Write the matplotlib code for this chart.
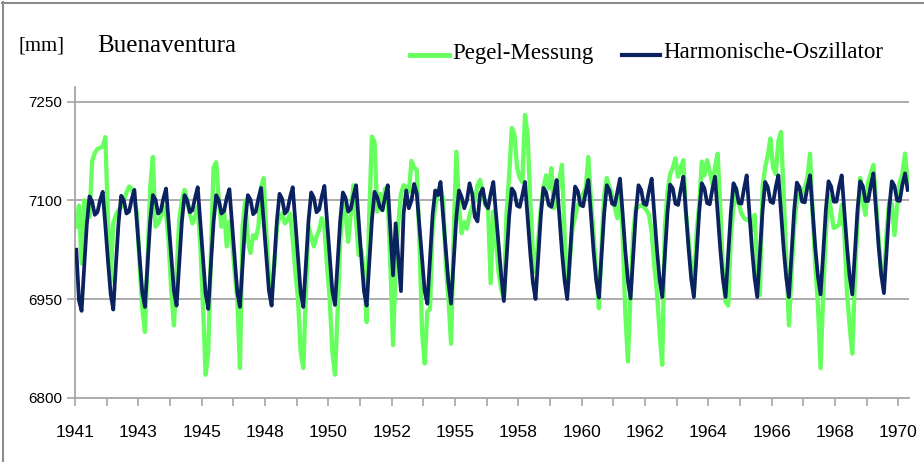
import matplotlib
matplotlib.use("Agg")
import matplotlib.pyplot as plt
from matplotlib.lines import Line2D
import numpy as np

# ---------------- data ----------------
year_labels = ["1941", "1943", "1945", "1948", "1950", "1952", "1955",
               "1958", "1960", "1962", "1964", "1966", "1968", "1970"]
y_ticks = [6800, 6950, 7100, 7250]

pegel = [
    7060, 7092, 7004, 7100, 7090, 7075, 7160, 7172, 7178, 7180, 7182, 7196,
    7070, 6976, 7065, 7078, 7085, 7090, 7100, 7112, 7121, 7118, 7100, 7080,
    7000, 6935, 6900, 7010, 7120, 7166, 7060, 7065, 7075, 7090, 7080, 7035,
    6960, 6910, 6990, 7070, 7100, 7116, 7100, 7080, 7065, 7075, 7090, 7030,
    6940, 6835, 6870, 7020, 7150, 7158, 7100, 7060, 7083, 7030, 7068, 7040,
    6990, 6950, 6845, 7060, 7100, 7040, 7020, 7047, 7042, 7060, 7120, 7134,
    7050, 6985, 6960, 7000, 7060, 7075, 7080, 7065, 7070, 7080, 7040, 6990,
    6950, 6870, 6845, 6960, 7060, 7045, 7030, 7045, 7055, 7073, 7060, 7000,
    6950, 6870, 6835, 6930, 7040, 7093, 7080, 7037, 7080, 7123, 7070, 7017,
    7025, 6990, 6915, 7080, 7197, 7189, 7083, 7110, 7085, 7118, 7103, 7000,
    6880, 7000, 7065, 7110, 7123, 7120, 7113, 7160, 7150, 7146, 7040, 6900,
    6852, 6931, 6935, 7060, 7090, 7115, 7120, 7100, 7002, 6950, 6882, 7050,
    7174, 7090, 7050, 7067, 7057, 7078, 7090, 7100, 7123, 7131, 7110, 7093,
    7088, 6974, 7083, 7040, 6990, 6965, 6950, 7080, 7138, 7210, 7200, 7150,
    7134, 7128, 7230, 7199, 7100, 7017, 6991, 7040, 7088, 7120, 7138, 7118,
    7149, 7088, 7100, 7130, 7154, 7050, 6960, 7010, 7058, 7075, 7093, 7100,
    7110, 7118, 7166, 7100, 7047, 6990, 6936, 7030, 7108, 7134, 7120, 7108,
    7090, 7073, 7118, 7050, 6930, 6855, 6960, 7050, 7088, 7090, 7093, 7090,
    7085, 7078, 7052, 7000, 6960, 6900, 6850, 7060, 7113, 7140, 7149, 7164,
    7136, 7150, 7161, 7080, 7040, 7000, 6965, 7050, 7093, 7159, 7138, 7161,
    7145, 7125, 7150, 7171, 7090, 6990, 6946, 6940, 7047, 7090, 7118, 7095,
    7080, 7073, 7070, 7073, 7055, 7078, 7000, 6956, 7120, 7150, 7169, 7194,
    7150, 7140, 7190, 7204, 7110, 7010, 6910, 6990, 7060, 7100, 7108, 7108,
    7120, 7134, 7171, 7080, 7000, 6940, 6845, 6960, 7050, 7108, 7083, 7058,
    7060, 7063, 7093, 7050, 6960, 6910, 6867, 6980, 7070, 7134, 7100, 7078,
    7128, 7140, 7154, 7100, 7040, 6990, 6976, 7050, 7098, 7095, 7047, 7090,
    7128, 7140, 7171, 7128,
]

oszillator = [
    7025, 6948, 6932, 7000, 7065, 7106, 7098, 7078, 7082, 7100, 7113, 7062,
    7008, 6958, 6934, 7002, 7066, 7107, 7100, 7080, 7083, 7102, 7116, 7064,
    7010, 6960, 6938, 7004, 7068, 7108, 7101, 7080, 7084, 7103, 7118, 7066,
    7012, 6962, 6940, 7004, 7068, 7108, 7100, 7082, 7085, 7104, 7120, 7066,
    7010, 6958, 6935, 7003, 7067, 7108, 7100, 7080, 7084, 7104, 7117, 7064,
    7010, 6960, 6938, 7004, 7068, 7108, 7101, 7079, 7083, 7103, 7119, 7066,
    7012, 6962, 6940, 7005, 7069, 7110, 7102, 7080, 7085, 7105, 7120, 7067,
    7012, 6960, 6938, 7005, 7070, 7112, 7104, 7082, 7086, 7106, 7122, 7068,
    7013, 6962, 6941, 7005, 7070, 7112, 7104, 7083, 7087, 7107, 7123, 7068,
    7013, 6962, 6940, 7005, 7070, 7113, 7105, 7090, 7085, 7105, 7123, 7055,
    6986, 7065, 7012, 6962, 7080, 7115, 7088, 7100, 7125, 7110, 7060, 7010,
    6962, 6943, 7010, 7078, 7115, 7108, 7128, 7075, 7025, 6975, 6943, 7010,
    7075, 7115, 7105, 7088, 7100, 7126, 7110, 7075, 7068, 7110, 7118, 7095,
    7088, 7110, 7128, 7080, 7030, 6985, 6947, 7010, 7075, 7118, 7112, 7092,
    7090, 7108, 7128, 7075, 7020, 6975, 6950, 7012, 7077, 7119, 7112, 7093,
    7090, 7110, 7131, 7078, 7022, 6978, 6950, 7012, 7078, 7121, 7114, 7093,
    7091, 7112, 7131, 7078, 7022, 6978, 6952, 7015, 7080, 7123, 7115, 7095,
    7093, 7113, 7133, 7080, 7024, 6978, 6951, 7015, 7080, 7123, 7116, 7095,
    7093, 7115, 7133, 7080, 7025, 6980, 6953, 7016, 7082, 7124, 7118, 7095,
    7093, 7116, 7136, 7082, 7026, 6980, 6953, 7016, 7082, 7126, 7118, 7096,
    7094, 7117, 7136, 7082, 7026, 6980, 6953, 7017, 7082, 7126, 7118, 7096,
    7095, 7118, 7138, 7083, 7027, 6982, 6953, 7018, 7084, 7128, 7120, 7098,
    7096, 7120, 7138, 7083, 7027, 6982, 6953, 7018, 7085, 7127, 7120, 7098,
    7097, 7120, 7138, 7083, 7028, 6984, 6957, 7020, 7086, 7129, 7121, 7098,
    7098, 7121, 7138, 7085, 7030, 6985, 6957, 7020, 7086, 7129, 7122, 7099,
    7099, 7122, 7141, 7086, 7030, 6986, 6959, 7022, 7088, 7129, 7122, 7100,
    7099, 7124, 7141, 7116,
]

# ---------------- figure ----------------
W, H = 924, 462
fig = plt.figure(figsize=(W / 100, H / 100), dpi=100)
fig.patch.set_facecolor("white")

def fx(px):
    return px / W

def fy(py):
    return 1 - py / H

sans = ["Liberation Sans Narrow", "Liberation Sans", "DejaVu Sans"]
serif = ["Liberation Serif", "DejaVu Serif"]

ax_left, ax_right = 75, 909
y_bottom_px = 397.7
ymin, ymax = 6800, 7272
px_per_mm = (397.7 - 101.7) / 450.0
ax_top = y_bottom_px - (ymax - ymin) * px_per_mm
ax = fig.add_axes([fx(ax_left), fy(y_bottom_px), (ax_right - ax_left) / W,
                   (y_bottom_px - ax_top) / H])

n = len(pegel)
x = np.arange(n)
green = "#66FF5E"
navy = "#0B2260"
ax.plot(x, pegel, color=green, lw=3.1, solid_joinstyle="round", zorder=2)
ax.plot(x, oszillator, color=navy, lw=2.7, solid_joinstyle="round", zorder=3)

ax.set_xlim(-0.5, n - 0.5)
ax.set_ylim(ymin, ymax)

grid_c = "#A6A6A6"
for v in y_ticks[1:]:
    ax.axhline(v, color=grid_c, lw=1.3, zorder=1)

ax.set_yticks(y_ticks)
ax.set_yticklabels([str(v) for v in y_ticks], family=sans, fontsize=11)
major_x = np.arange(0, n, 24) - 0.5
major_x = major_x[:len(year_labels)]
ax.set_xticks(major_x)
ax.set_xticklabels(year_labels, family=sans, fontsize=12.5)
ax.set_xticks(np.arange(12, n, 24) - 0.5, minor=True)
ax.tick_params(axis="x", which="both", direction="out", length=6, width=1.2,
               color=grid_c, pad=14)
ax.tick_params(axis="y", direction="out", length=6, width=1.2, color=grid_c,
               pad=3)

for s in ["top", "right"]:
    ax.spines[s].set_visible(False)
ax.spines["left"].set_color(grid_c)
ax.spines["left"].set_linewidth(1.3)
ax.spines["bottom"].set_color(grid_c)
ax.spines["bottom"].set_linewidth(1.3)
ax.set_facecolor("none")

# titles
fig.text(fx(18), fy(46), "[mm]", family=serif, fontsize=15, va="center", ha="left")
fig.text(fx(97), fy(46), "Buenaventura", family=serif, fontsize=18, va="center", ha="left")

# legend
fig.add_artist(Line2D([fx(410), fx(449)], [fy(55), fy(55)], color=green, lw=3.5))
fig.text(fx(452), fy(53), "Pegel-Messung", family=serif, fontsize=16.5,
         va="center", ha="left")
fig.add_artist(Line2D([fx(622), fx(660)], [fy(55), fy(55)], color=navy, lw=3.0))
fig.text(fx(663), fy(53), "Harmonische-Oszillator", family=serif, fontsize=16.5,
         va="center", ha="left")

# outer chart border (left and top edges visible in the reference)
fig.add_artist(Line2D([fx(2.5), fx(2.5)], [fy(2), fy(462)], color="#8C8C8C", lw=1.5))
fig.add_artist(Line2D([fx(2), fx(924)], [fy(2.5), fy(2.5)], color="#8C8C8C", lw=1.5))

fig.savefig("out.png", dpi=100, facecolor="white")
